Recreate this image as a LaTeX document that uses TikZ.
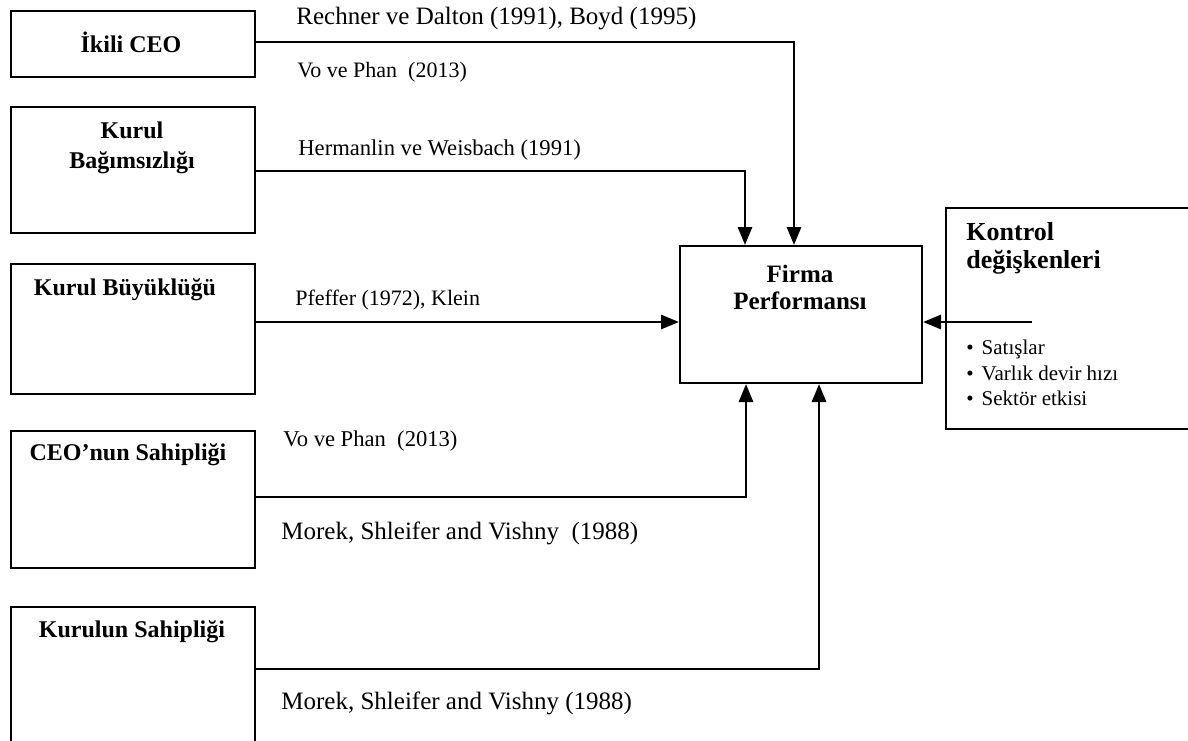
\documentclass[tikz,border=0pt]{standalone}
\usepackage{fontspec}
\setmainfont{Liberation Serif}
\usetikzlibrary{arrows.meta}
\begin{document}
\begin{tikzpicture}[x=0.5pt, y=-0.5pt,
    kutu/.style={draw, line width=1pt, inner sep=0pt, anchor=north west, minimum width=122pt},
    baslik/.style={font=\fontsize{12}{15}\selectfont\bfseries, align=center, inner sep=0pt},
    kaynak/.style={font=\fontsize{12.5}{15}\selectfont, anchor=west, inner sep=0pt},
    ok/.style={line width=1.4pt, -{Triangle[length=9pt, width=7pt]}}]
    \useasboundingbox (0, 0) rectangle (1188, 740);
    \clip (0, 0) rectangle (1188, 740);

    % kutular
    \node[kutu, minimum height=33pt] (ikili) at (10, 10) {};
    \node[kutu, minimum height=63pt] (bagimsiz) at (10, 106) {};
    \node[kutu, minimum height=65pt] (buyukluk) at (10, 263) {};
    \node[kutu, minimum height=68.5pt] (ceosahip) at (10, 430) {};
    \node[kutu, minimum height=80pt] (kurulsahip) at (10, 606) {};
    \node[kutu, minimum width=121pt, minimum height=68.5pt] (firma) at (679, 245) {};
    \node[kutu, minimum width=130pt, minimum height=110.5pt] (kontrol) at (945, 207) {};

    % basliklar
    \node[baslik] (t1) at (131, 42) {İkili CEO};
    \node[baslik] (t2) at (132, 148) {Kurul\\Bağımsızlığı};
    \node[baslik] (t3) at (125, 290) {Kurul Büyüklüğü};
    \node[baslik] (t4) at (128, 455) {CEO’nun Sahipliği};
    \node[baslik] (t5) at (132, 632) {Kurulun Sahipliği};
    \node[baslik, font=\fontsize{12.5}{13.5}\selectfont\bfseries] (tf) at (800, 287.5) {Firma\\Performansı};
    \node[baslik, font=\fontsize{13}{14}\selectfont\bfseries, align=left, anchor=west] (tk) at (966, 248) {Kontrol\\değişkenleri};
    \node[font=\fontsize{10.5}{12.75}\selectfont, align=left, anchor=west, inner sep=0pt] (liste) at (966, 373)
        {\textbullet\hspace{4pt}Satışlar\\\textbullet\hspace{4pt}Varlık devir hızı\\\textbullet\hspace{4pt}Sektör etkisi};

    % kaynaklar
    \node[kaynak] (k1) at (296, 19) {Rechner ve Dalton (1991), Boyd (1995)};
    \node[kaynak, font=\fontsize{11}{13}\selectfont] (k2) at (297, 72) {Vo ve Phan~ (2013)};
    \node[kaynak, font=\fontsize{11.3}{13}\selectfont] (k3) at (298, 150) {Hermanlin ve Weisbach (1991)};
    \node[kaynak, font=\fontsize{11}{13}\selectfont] (k4) at (295, 300) {Pfeffer (1972), Klein};
    \node[kaynak, font=\fontsize{11.3}{13}\selectfont] (k5) at (283, 441) {Vo ve Phan~ (2013)};
    \node[kaynak] (k6) at (281, 533) {Morek, Shleifer and Vishny~ (1988)};
    \node[kaynak] (k7) at (281, 703) {Morek, Shleifer and Vishny (1988)};

    % oklar
    \coordinate (c1) at ([yshift=-16pt]ikili.north east);
    \coordinate (c2) at ([yshift=-32.5pt]bagimsiz.north east);
    \coordinate (c3) at ([yshift=-29.5pt]buyukluk.north east);
    \coordinate (c4) at ([yshift=-33.5pt]ceosahip.north east);
    \coordinate (c5) at ([yshift=-31.5pt]kurulsahip.north east);
    \coordinate (c6) at ([xshift=43.5pt, yshift=-57.5pt]kontrol.north west);
    \draw[ok] (c1) -| ([xshift=-3.5pt]firma.north);
    \draw[ok] (c2) -| ([xshift=-28pt]firma.north);
    \draw[ok] (c3) -- (c3 -| firma.west);
    \draw[ok] (c4) -| ([xshift=-27.5pt]firma.south);
    \draw[ok] (c5) -| ([xshift=9pt]firma.south);
    \draw[ok] (c6) -- (c6 -| firma.east);
\end{tikzpicture}
\end{document}
